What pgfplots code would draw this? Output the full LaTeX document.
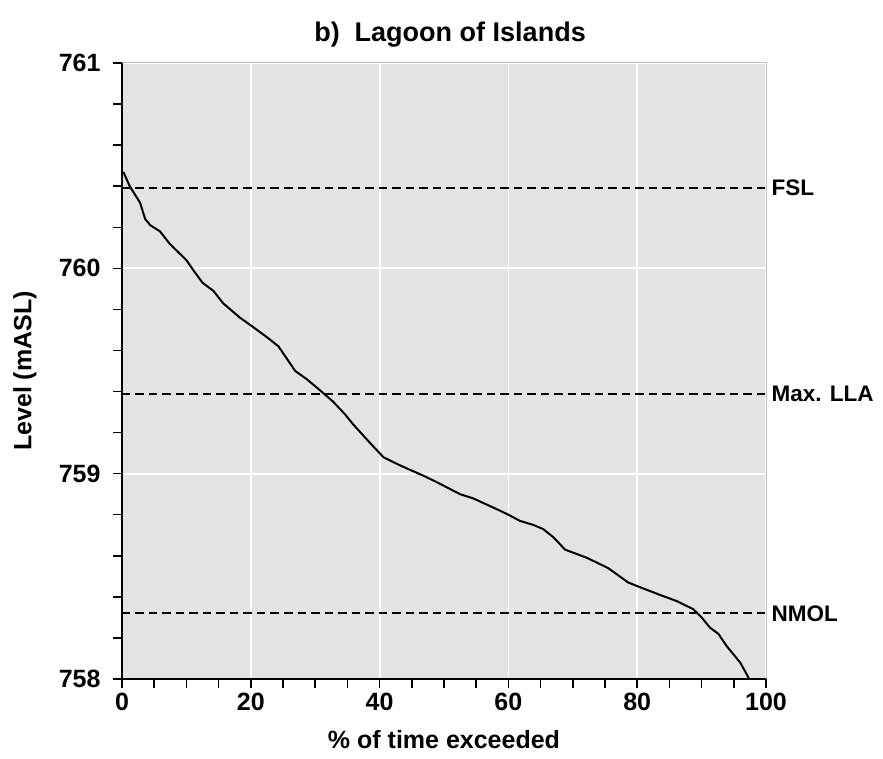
\documentclass[border=0pt]{standalone}
\usepackage{fontspec}
\setmainfont{Liberation Sans}
\usepackage{pgfplots}
\pgfplotsset{compat=1.18}
\usetikzlibrary{calc}
\definecolor{bggray}{RGB}{227,227,227}
\definecolor{framegray}{RGB}{190,190,190}
\newcommand{\lblfont}{\fontsize{25}{30}\selectfont\bfseries}
\newcommand{\annfont}{\fontsize{22.5}{27}\selectfont\bfseries}
\begin{document}
\begin{tikzpicture}
\begin{axis}[
  scale only axis,
  width=644pt, height=616pt,
  xmin=0, xmax=100, ymin=758, ymax=761,
  axis lines*=left,
  axis line style={black, line width=1.8pt},
  axis background/.style={fill=bggray},
  xtick={0,20,...,100}, minor x tick num=3,
  ytick={758,759,760,761}, minor y tick num=4,
  tick align=outside,
  major tick length=9pt, minor tick length=9pt,
  every tick/.style={black, line width=1.5pt},
  grid=major,
  major grid style={white, line width=1.8pt},
  /pgf/number format/assume math mode=true,
  /pgf/number format/1000 sep={},
  ticklabel style={font=\lblfont},
  xticklabel style={yshift=-2pt},
  yticklabel style={xshift=-9pt},
  label style={font=\lblfont},
  xlabel={\% of time exceeded},
  ylabel={Level (mASL)},
  xlabel style={at={(rel axis cs:0.5,0)}, anchor=center, yshift=-61pt},
  ylabel style={at={(rel axis cs:0,0.5)}, anchor=center, yshift=97pt},
  title={b)\ \ Lagoon of Islands},
  title style={font=\fontsize{27}{31}\selectfont\bfseries, at={(rel axis cs:0.5,1)}, anchor=center, yshift=22pt, xshift=6pt},
  clip=false,
]
\draw[framegray, line width=1pt] (rel axis cs:0,1) -- (rel axis cs:1,1) -- (rel axis cs:1,0);
\addplot[black, dash pattern=on 8.5pt off 5pt, line width=2pt] coordinates {(0,760.39) (100,760.39)};
\addplot[black, dash pattern=on 8.5pt off 5pt, line width=2pt] coordinates {(0,759.39) (100,759.39)};
\addplot[black, dash pattern=on 8.5pt off 5pt, line width=2pt] coordinates {(0,758.32) (100,758.32)};
\addplot[black, line width=2pt] coordinates {
(0.2,760.47) (1.2,760.40) (2.8,760.32) (3.6,760.24) (4.4,760.21) (5.9,760.18)
(7.4,760.12) (10.0,760.04) (11.1,759.99) (12.5,759.93) (14.2,759.89) (15.7,759.83)
(18.3,759.76) (20.1,759.72) (21.4,759.69) (22.7,759.66) (24.3,759.62) (25.6,759.56)
(26.9,759.50) (28.7,759.46) (30.6,759.41) (32.8,759.35) (34.6,759.29) (35.9,759.24)
(38.5,759.15) (40.6,759.08) (43.2,759.04) (46.8,758.99) (48.8,758.96) (52.5,758.90)
(54.5,758.88) (58.0,758.83) (60.0,758.80) (61.8,758.77) (63.9,758.75) (65.4,758.73)
(67.0,758.69) (68.8,758.63) (72.2,758.59) (75.5,758.54) (78.6,758.47) (80.2,758.45)
(83.5,758.41) (86.1,758.38) (88.7,758.34) (90.0,758.30) (91.3,758.25) (92.6,758.22)
(93.9,758.16) (96.0,758.08) (97.4,758.00)
};
\node[anchor=west, font=\annfont] at (axis cs:100,760.39) [xshift=2pt] {FSL};
\node[anchor=west, font=\annfont] at (axis cs:100,759.39) [xshift=2pt] {Max. LLA};
\node[anchor=west, font=\annfont] at (axis cs:100,758.32) [xshift=2pt] {NMOL};
\coordinate (ll) at (rel axis cs:0,0);
\coordinate (ur) at (rel axis cs:1,1);
\end{axis}
\pgfresetboundingbox
\path[use as bounding box] ($(ll)+(-122pt,-79pt)$) rectangle ($(ur)+(117pt,63pt)$);
\end{tikzpicture}
\end{document}
